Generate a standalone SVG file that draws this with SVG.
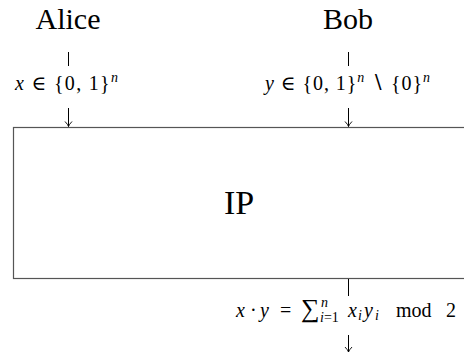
<svg xmlns="http://www.w3.org/2000/svg" width="464" height="354" viewBox="0 0 464 354">
<style>
.conn{stroke:#000;stroke-width:1;fill:none}
.box{fill:#fff;stroke:#555;stroke-width:1.2}
.i{font-style:italic}
.s{font-size:14px}
</style>
<defs>
<marker id="ah" markerWidth="8" markerHeight="10" refX="0" refY="0" viewBox="-6 -5 8 10" orient="auto" markerUnits="userSpaceOnUse">
<path d="M-5,-3.5 Q-2,-0.6 0,0 Q-2,0.6 -5,3.5" fill="none" stroke="#000" stroke-width="0.9"/>
</marker>
</defs>
<g fill="#000" font-family="'Liberation Serif', 'DejaVu Serif', serif">
<g id="alice"><text x="68" y="29" font-size="30" text-anchor="middle">Alice</text></g>
<g id="bob"><text x="348" y="29" font-size="30" text-anchor="middle">Bob</text></g>
<g id="ip">
<rect class="box" x="13.5" y="127.5" width="460" height="151"/>
<text x="239" y="214" font-size="34" text-anchor="middle">IP</text>
</g>
<g id="connectors" font-size="20">
<line class="conn" x1="68.5" y1="52" x2="68.5" y2="66"/>
<line class="conn" x1="68.5" y1="108" x2="68.5" y2="126.5" marker-end="url(#ah)"/>
<line class="conn" x1="348.5" y1="52" x2="348.5" y2="66"/>
<line class="conn" x1="348.5" y1="108" x2="348.5" y2="126.5" marker-end="url(#ah)"/>
<line class="conn" x1="348.5" y1="279" x2="348.5" y2="296"/>
<line class="conn" x1="348.5" y1="335" x2="348.5" y2="352" marker-end="url(#ah)"/>
<text x="15" y="90" textLength="103" lengthAdjust="spacing"><tspan class="i">x</tspan> ∈ {0, 1}<tspan class="i s" dy="-8">n</tspan></text>
<text x="265" y="90" textLength="165" lengthAdjust="spacing"><tspan class="i">y</tspan> ∈ {0, 1}<tspan class="i s" dy="-8">n</tspan><tspan dy="8"> ∖ {0}</tspan><tspan class="i s" dy="-8">n</tspan></text>
<text y="317"><tspan class="i" x="236">x</tspan><tspan x="250">·</tspan><tspan class="i" x="260">y</tspan><tspan x="280">=</tspan><tspan x="301" font-size="26">∑</tspan><tspan class="i s" x="321" y="307">n</tspan><tspan class="s" x="320" y="322"><tspan class="i">i</tspan>=1</tspan><tspan class="i" x="348" y="317">x</tspan><tspan class="i s" x="358" y="320">i</tspan><tspan class="i" x="364" y="317">y</tspan><tspan class="i s" x="375" y="320">i</tspan><tspan x="396" y="317">mod</tspan><tspan x="446">2</tspan></text>
</g>
</g>
</svg>
